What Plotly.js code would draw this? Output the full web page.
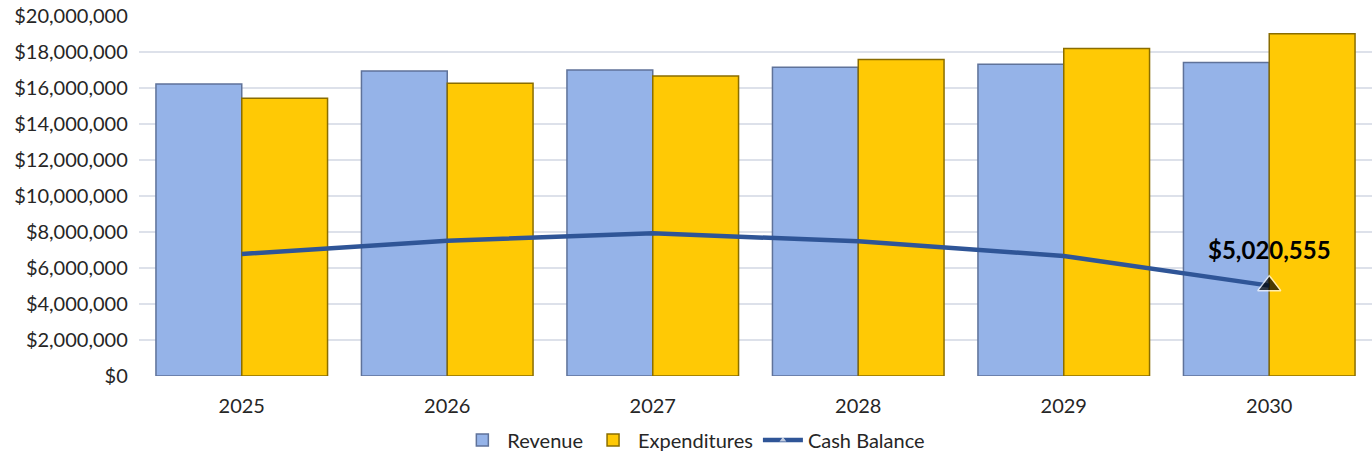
<!DOCTYPE html>
<html>
<head>
<meta charset="utf-8">
<script src="https://cdn.plot.ly/plotly-3.0.1.min.js"></script>
<style>html,body{margin:0;padding:0;background:#fff;}#chart{width:1372px;height:460px;}</style>
</head>
<body>
<div id="chart"></div>
<script>
const years = ['2025','2026','2027','2028','2029','2030'];
const revenue = [16220000, 16940000, 17000000, 17150000, 17320000, 17410000];
const expenditures = [15430000, 16260000, 16670000, 17590000, 18200000, 19020000];
const cashBalance = [6780000, 7520000, 7930000, 7480000, 6670000, 5020555];
const labelText = '$5,020,555';

const lastIdx = cashBalance.length - 1;
const traces = [
  {type:'bar', name:'Revenue', x:years, y:revenue,
   marker:{color:'#95b3e8', line:{color:'#5f7299', width:1.5}}},
  {type:'bar', name:'Expenditures', x:years, y:expenditures,
   marker:{color:'#ffc905', line:{color:'#8a6d00', width:1.5}}},
  {type:'scatter', mode:'lines+markers', name:'Cash Balance', x:years, y:cashBalance,
   line:{color:'#2f5597', width:4.5},
   marker:{symbol:'triangle-up', color:'#000',
     size:cashBalance.map((v,i)=> i===lastIdx ? 20 : 0),
     line:{color:'#fff', width:1.5}}}
];

const layout = {
  width:1372, height:460,
  margin:{l:139, r:0, t:16, b:84},
  paper_bgcolor:'#fff', plot_bgcolor:'#fff',
  font:{family:'Lato, "Open Sans", sans-serif', size:20, color:'#262626'},
  barmode:'group', bargap:0.165, bargroupgap:0,
  showlegend:true,
  legend:{orientation:'h', x:0.45, xanchor:'center', y:-0.232, yanchor:'bottom',
    font:{size:20, color:'#262626'}, traceorder:'normal', itemwidth:40},
  xaxis:{type:'category', range:[-0.5, years.length-0.5], showgrid:false, zeroline:false, showline:false,
    ticks:'outside', ticklen:12, tickcolor:'rgba(0,0,0,0)', tickfont:{size:20}},
  yaxis:{range:[0, 20000000], dtick:2000000, tickformat:'$,.0f',
    showgrid:true, gridcolor:'#dde1ea', gridwidth:1.5, zeroline:false,
    showline:false, ticks:'', tickfont:{size:20}, ticksuffix:'  '},
  annotations:[{x:lastIdx, y:cashBalance[lastIdx], xref:'x', yref:'y',
    text:'<b>'+labelText+'</b>', showarrow:false, yshift:36,
    font:{size:24, color:'#000'}}]
};

Plotly.newPlot('chart', traces, layout, {displayModeBar:false, staticPlot:true});
</script>
</body>
</html>
